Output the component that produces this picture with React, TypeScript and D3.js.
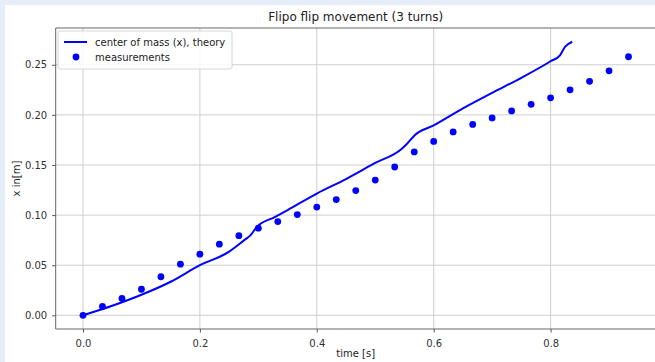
import React, { useEffect, useRef } from 'react';
import * as d3 from 'd3';

// measurements (every 1/30 s)
const measT = [0, 0.0333, 0.0667, 0.1, 0.1333, 0.1667, 0.2, 0.2333, 0.2667, 0.3, 0.3333, 0.3667, 0.4, 0.4333, 0.4667, 0.5, 0.5333, 0.5667, 0.6, 0.6333, 0.6667, 0.7, 0.7333, 0.7667, 0.8, 0.8333, 0.8667, 0.9, 0.9333];
const measX = [0, 0.0088, 0.0168, 0.026, 0.0385, 0.051, 0.061, 0.071, 0.0795, 0.087, 0.0935, 0.1005, 0.108, 0.1155, 0.1245, 0.135, 0.148, 0.163, 0.1735, 0.183, 0.1905, 0.197, 0.204, 0.2105, 0.217, 0.225, 0.2335, 0.244, 0.258];

// theory curve
const theoryT = [0, 0.05, 0.1, 0.15, 0.2, 0.25, 0.277, 0.286, 0.297, 0.328, 0.35, 0.4, 0.45, 0.5, 0.545, 0.554, 0.568, 0.6, 0.65, 0.7, 0.75, 0.8, 0.816, 0.825, 0.837];
const theoryX = [0, 0.0095, 0.0205, 0.0335, 0.05, 0.0635, 0.0755, 0.0795, 0.088, 0.098, 0.105, 0.1215, 0.136, 0.152, 0.166, 0.171, 0.18, 0.1895, 0.2065, 0.222, 0.237, 0.2535, 0.2595, 0.268, 0.273];

const xTicks = [0, 0.2, 0.4, 0.6, 0.8];
const yTicks = [0, 0.05, 0.1, 0.15, 0.2, 0.25];

const W = 655;
const H = 362;
const font = 'DejaVu Sans, sans-serif';

function FlipChart() {
    const svgRef = useRef<SVGSVGElement>(null);

    useEffect(() => {
        const svg = d3.select(svgRef.current);
        svg.selectAll('*').remove();

        const left = 55.7, right = 655.8, top = 28, bottom = 329;

        svg.append('rect').attr('width', W).attr('height', H).attr('fill', '#e4edf8');
        svg.append('rect').attr('x', 5).attr('y', 5).attr('width', W - 5).attr('height', H - 5).attr('fill', '#ffffff');

        const x = d3.scaleLinear().domain([-0.0467, 0.98]).range([left, right]);
        const y = d3.scaleLinear().domain([-0.01365, 0.2867]).range([bottom, top]);

        // grid
        const grid = svg.append('g');
        grid.selectAll('.gx').data(xTicks).enter().append('line')
            .attr('x1', d => x(d)).attr('x2', d => x(d))
            .attr('y1', top).attr('y2', bottom)
            .attr('stroke', '#cfcfcf').attr('stroke-width', 1);
        grid.selectAll('.gy').data(yTicks).enter().append('line')
            .attr('x1', left).attr('x2', right)
            .attr('y1', d => y(d)).attr('y2', d => y(d))
            .attr('stroke', '#cfcfcf').attr('stroke-width', 1);

        // axes
        const xAxis = d3.axisBottom(x).tickValues(xTicks).tickFormat(d3.format('.1f')).tickSize(3.5).tickSizeOuter(0);
        const yAxis = d3.axisLeft(y).tickValues(yTicks).tickFormat(d3.format('.2f')).tickSize(3.5).tickSizeOuter(0);

        const gx = svg.append('g').attr('transform', `translate(0,${bottom})`).call(xAxis);
        const gy = svg.append('g').attr('transform', `translate(${left},0)`).call(yAxis);
        [gx, gy].forEach(g => {
            g.select('.domain').remove();
            g.selectAll('line').attr('stroke', '#555');
            g.selectAll('text').attr('fill', '#333').style('font-family', font).style('font-size', '10px');
        });
        gx.selectAll('text').attr('dy', '1.1em');
        gy.selectAll('text').attr('dx', '-0.2em');

        // spines
        svg.append('line').attr('x1', left).attr('x2', left).attr('y1', top).attr('y2', bottom).attr('stroke', '#666').attr('stroke-width', 1);
        svg.append('line').attr('x1', left).attr('x2', right).attr('y1', bottom).attr('y2', bottom).attr('stroke', '#666').attr('stroke-width', 1);
        svg.append('line').attr('x1', left).attr('x2', right).attr('y1', top).attr('y2', top).attr('stroke', '#666').attr('stroke-width', 1);

        // theory line
        const pts: [number, number][] = theoryT.map((t, i) => [t, theoryX[i]]);
        const line = d3.line<[number, number]>().x(d => x(d[0])).y(d => y(d[1])).curve(d3.curveMonotoneX);
        svg.append('path').datum(pts).attr('d', line).attr('fill', 'none')
            .attr('stroke', '#0000ff').attr('stroke-width', 2);

        // measurements
        svg.append('g').selectAll('circle').data(measT).enter().append('circle')
            .attr('cx', d => x(d)).attr('cy', (d, i) => y(measX[i])).attr('r', 3.4)
            .attr('fill', '#0000ff');

        // title and labels
        svg.append('text').attr('x', (left + right) / 2).attr('y', 21).attr('text-anchor', 'middle')
            .style('font-family', font).style('font-size', '12px').attr('fill', '#222')
            .text('Flipo flip movement (3 turns)');
        svg.append('text').attr('x', (left + right) / 2).attr('y', 357).attr('text-anchor', 'middle')
            .style('font-family', font).style('font-size', '10px').attr('fill', '#222')
            .text('time [s]');
        svg.append('text').attr('transform', `translate(20,${(top + bottom) / 2}) rotate(-90)`).attr('text-anchor', 'middle')
            .style('font-family', font).style('font-size', '10px').attr('fill', '#222')
            .text('x in[m]');

        // legend
        const lg = svg.append('g');
        lg.append('rect').attr('x', 58).attr('y', 31).attr('width', 174).attr('height', 38).attr('rx', 2)
            .attr('fill', '#fff').attr('fill-opacity', 0.85).attr('stroke', '#d6d6d6');
        lg.append('line').attr('x1', 64).attr('x2', 87).attr('y1', 42).attr('y2', 42).attr('stroke', '#0000ff').attr('stroke-width', 2);
        lg.append('circle').attr('cx', 76).attr('cy', 57).attr('r', 3.4).attr('fill', '#0000ff');
        lg.append('text').attr('x', 95).attr('y', 46).style('font-family', font).style('font-size', '10px').attr('fill', '#222')
            .text('center of mass (x), theory');
        lg.append('text').attr('x', 95).attr('y', 61).style('font-family', font).style('font-size', '10px').attr('fill', '#222')
            .text('measurements');
    }, []);

    return <svg ref={svgRef} width={W} height={H} style={{ position: 'absolute', left: 0, top: 0 }} />;
}

export default function App() {
    return <FlipChart />;
}
